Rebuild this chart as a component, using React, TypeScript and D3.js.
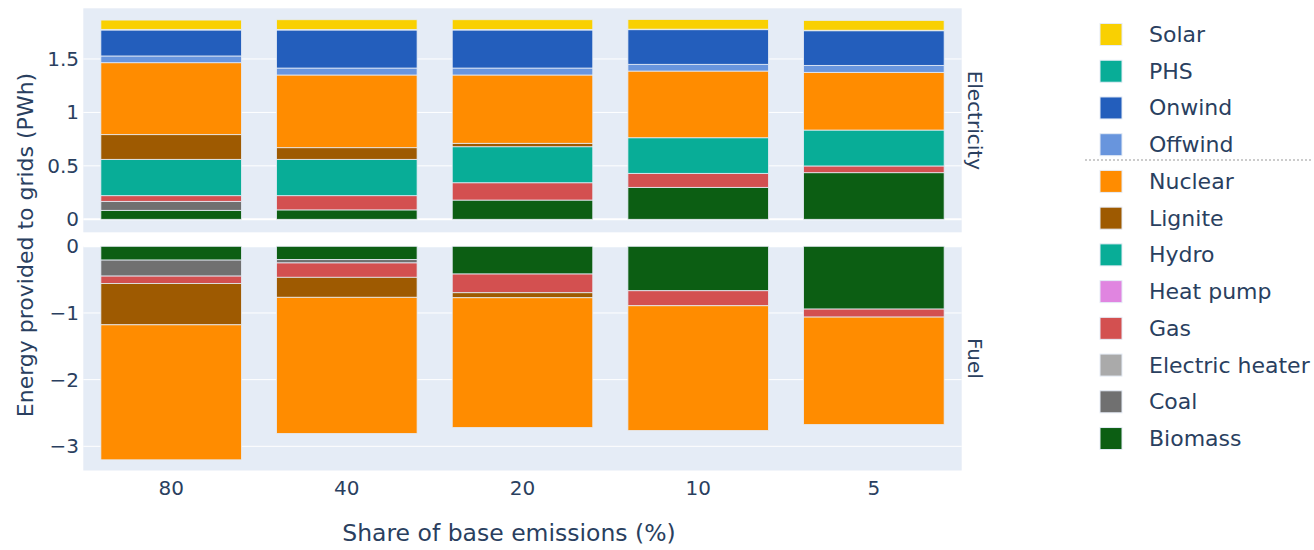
import React from 'react';
import * as d3 from 'd3';

const categories = ['80', '40', '20', '10', '5'];
const techs = ['Biomass', 'Coal', 'Electric heater', 'Gas', 'Heat pump', 'Hydro', 'Lignite', 'Nuclear', 'Offwind', 'Onwind', 'PHS', 'Solar'];
const techColors = ['#0c5e13', '#707070', '#aaaaaa', '#d35050', '#e085e0', '#08ad97', '#9e5a01', '#ff8c00', '#6895dd', '#235ebc', '#08ad97', '#f9d002'];
const legendOrder = ['Solar', 'PHS', 'Onwind', 'Offwind', 'Nuclear', 'Lignite', 'Hydro', 'Heat pump', 'Gas', 'Electric heater', 'Coal', 'Biomass'];

// Electricity (PWh), per category 80,40,20,10,5
const elecBiomass = [0.084, 0.088, 0.18, 0.299, 0.436];
const elecCoal = [0.084, 0, 0, 0, 0];
const elecElectricHeater = [0, 0, 0, 0, 0];
const elecGas = [0.053, 0.133, 0.162, 0.131, 0.063];
const elecHeatPump = [0, 0, 0, 0, 0];
const elecHydro = [0.34, 0.34, 0.337, 0.333, 0.336];
const elecLignite = [0.231, 0.109, 0.032, 0, 0];
const elecNuclear = [0.673, 0.68, 0.639, 0.624, 0.54];
const elecOffwind = [0.063, 0.065, 0.065, 0.063, 0.065];
const elecOnwind = [0.243, 0.356, 0.356, 0.324, 0.324];
const elecPHS = [0.006, 0.005, 0.005, 0.005, 0.005];
const elecSolar = [0.087, 0.091, 0.091, 0.091, 0.092];

// Fuel (PWh, negative)
const fuelBiomass = [-0.207, -0.2, -0.416, -0.667, -0.942];
const fuelCoal = [-0.24, -0.05, 0, 0, 0];
const fuelElectricHeater = [0, 0, 0, 0, 0];
const fuelGas = [-0.111, -0.215, -0.281, -0.225, -0.12];
const fuelHeatPump = [0, 0, 0, 0, 0];
const fuelHydro = [0, 0, 0, 0, 0];
const fuelLignite = [-0.62, -0.3, -0.075, 0, 0];
const fuelNuclear = [-2.025, -2.043, -1.947, -1.872, -1.612];
const fuelOffwind = [0, 0, 0, 0, 0];
const fuelOnwind = [0, 0, 0, 0, 0];
const fuelPHS = [0, 0, 0, 0, 0];
const fuelSolar = [0, 0, 0, 0, 0];

const elecTicks = [0, 0.5, 1, 1.5];
const fuelTicks = [-3, -2, -1, 0];

const elecSeries = [elecBiomass, elecCoal, elecElectricHeater, elecGas, elecHeatPump, elecHydro, elecLignite, elecNuclear, elecOffwind, elecOnwind, elecPHS, elecSolar];
const fuelSeries = [fuelBiomass, fuelCoal, fuelElectricHeater, fuelGas, fuelHeatPump, fuelHydro, fuelLignite, fuelNuclear, fuelOffwind, fuelOnwind, fuelPHS, fuelSolar];

function buildRows(series: number[][]) {
  return categories.map((c, i) => {
    const row: any = { cat: c };
    techs.forEach((t, k) => { row[t] = series[k][i]; });
    return row;
  });
}

const FONT = '"DejaVu Sans", Verdana, sans-serif';
const TXT = '#2a3f5f';
const BG = '#E5ECF6';

const PL = 83.3, PR = 961.7;
const TOP_Y0 = 8.3, TOP_Y1 = 232.3;
const BOT_Y0 = 246.3, BOT_Y1 = 470.5;

export default function App() {
  const x = d3.scaleBand<string>().domain(categories).range([PL, PR]).paddingInner(0.2).paddingOuter(0.1);
  const yTop = d3.scaleLinear().domain([-0.1216, 1.974]).range([TOP_Y1, TOP_Y0]);
  const yBot = d3.scaleLinear().domain([-3.363, 0]).range([BOT_Y1, BOT_Y0]);
  const stack = d3.stack<any>().keys(techs).offset(d3.stackOffsetDiverging);
  const elecStack = stack(buildRows(elecSeries));
  const fuelStack = stack(buildRows(fuelSeries));

  const panel = (st: any[], y: d3.ScaleLinear<number, number>, ticks: number[], y0: number, y1: number, label: string, key: string) => (
    <g key={key}>
      <rect x={PL} y={y0} width={PR - PL} height={y1 - y0} fill={BG} />
      {ticks.map(t => (
        <line key={t} x1={PL} x2={PR} y1={y(t)} y2={y(t)} stroke="#fff" strokeWidth={t === 0 ? 2 : 1} />
      ))}
      {st.map((layer, k) => (
        <g key={layer.key} fill={techColors[k]}>
          {layer.map((d: any, i: number) => {
            const a = y(d[0]), b = y(d[1]);
            const h = Math.abs(a - b);
            if (h < 0.01) return null;
            return (
              <rect key={i} x={x(categories[i])} width={x.bandwidth()} y={Math.min(a, b)} height={h}
                stroke={BG} strokeWidth={0.8} />
            );
          })}
        </g>
      ))}
      {ticks.map(t => (
        <text key={'l' + t} x={79} y={y(t)} textAnchor="end" dominantBaseline="central" fontSize={20} fill={TXT} fontFamily={FONT}>
          {t < 0 ? '\u2212' + Math.abs(t) : String(t)}
        </text>
      ))}
      <text transform={`translate(975,${(y0 + y1) / 2}) rotate(90)`} textAnchor="middle" dominantBaseline="central" fontSize={20} fill={TXT} fontFamily={FONT}>{label}</text>
    </g>
  );

  return (
    <div style={{ position: 'absolute', left: 0, top: 0 }}>
      <svg width={1314} height={550} style={{ display: 'block', background: '#fff' }}>
        {panel(elecStack, yTop, elecTicks, TOP_Y0, TOP_Y1, 'Electricity', 'e')}
        {panel(fuelStack, yBot, fuelTicks, BOT_Y0, BOT_Y1, 'Fuel', 'f')}
        {categories.map(c => (
          <text key={c} x={(x(c) as number) + x.bandwidth() / 2} y={488} textAnchor="middle" dominantBaseline="central" fontSize={20} fill={TXT} fontFamily={FONT}>{c}</text>
        ))}
        <text x={509} y={533} textAnchor="middle" dominantBaseline="central" fontSize={23.5} fill={TXT} fontFamily={FONT}>Share of base emissions (%)</text>
        <text transform={`translate(25,245) rotate(-90)`} textAnchor="middle" dominantBaseline="central" fontSize={22} fill={TXT} fontFamily={FONT}>Energy provided to grids (PWh)</text>
        {legendOrder.map((t, i) => {
          const cy = 34.5 + i * 36.73;
          const k = techs.indexOf(t);
          return (
            <g key={t}>
              <rect x={1100} y={cy - 11} width={22} height={22} fill={techColors[k]} stroke={BG} strokeWidth={1} />
              <text x={1149} y={cy} dominantBaseline="central" fontSize={22} fill={TXT} fontFamily={FONT}>{t}</text>
            </g>
          );
        })}
        <line x1={1085} x2={1313} y1={160} y2={160} stroke="#999" strokeWidth={1} strokeDasharray="2,2" />
      </svg>
    </div>
  );
}
